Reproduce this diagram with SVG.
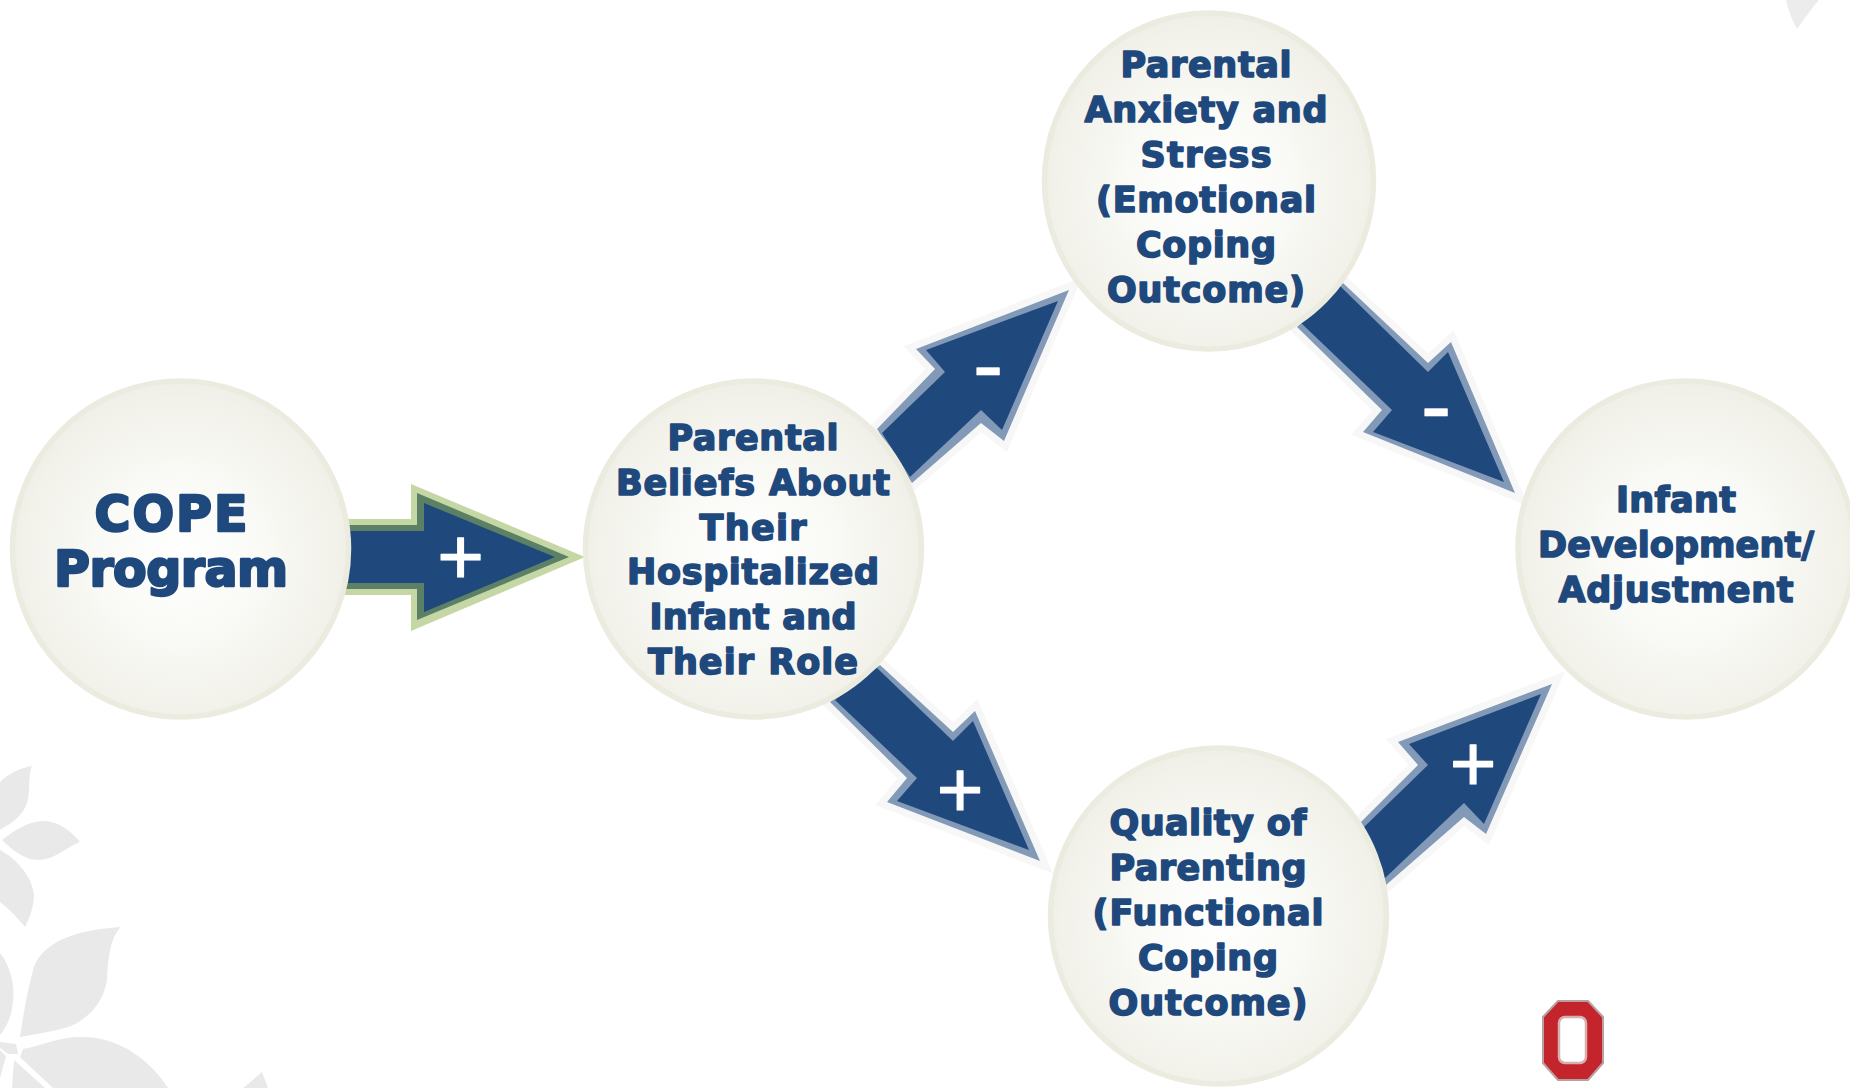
<svg xmlns="http://www.w3.org/2000/svg" width="1850" height="1088" viewBox="0 0 1850 1088">
<defs>
<radialGradient id="disc" cx="50%" cy="52%" r="52%">
<stop offset="0" stop-color="#ffffff"/>
<stop offset="0.5" stop-color="#f9f9f5"/>
<stop offset="1" stop-color="#f0efe7"/>
</radialGradient>
</defs>
<style>
.bg{fill:#e9e9e9}
.disc{fill:url(#disc);stroke:#ecebe0;stroke-width:5.5}
.t{font-family:"DejaVu Sans","Liberation Sans",sans-serif;font-weight:700;font-size:35px;fill:#1f497d;stroke:#1f497d;stroke-width:1.6px;stroke-linejoin:round;text-anchor:middle}
.big{font-size:49px;stroke-width:2.4px}
.halo{fill:#f7f7f7;stroke:#f7f7f7;stroke-width:14;stroke-linejoin:miter;stroke-miterlimit:10}
.band{fill:#829ab8}
.navy{fill:#1f497d}
.sign{font-family:"Liberation Sans",Arial,sans-serif;fill:#fff;stroke:#fff;stroke-width:1.2px;stroke-linejoin:round;text-anchor:middle}
.plus{font-size:80px}
.minus{font-size:92px;stroke-width:.6px}
</style>
<rect width="1850" height="1088" fill="#fff"/>
<g id="background">
<path class="bg" d="M0 782C8 774 20 768 32 766C26 780 34 800 20 815C14 822 6 826 0 830Z"/>
<path class="bg" d="M2 840C15 830 30 820 45 821C60 822 72 832 80 842C68 846 55 860 38 860C25 860 12 850 2 840Z"/>
<path class="bg" d="M0 850C15 858 32 875 34 895C34 905 30 918 25 927C17 917 8 908 0 902Z"/>
<path class="bg" d="M20 1037C24 1010 28 990 33 970C40 945 70 930 121 927C110 937 108 960 107 980C103 1005 85 1022 65 1028C50 1032 35 1034 20 1037Z"/>
<path class="bg" d="M0 953C10 965 15 985 13 1000C12 1015 8 1025 0 1035Z"/>
<path class="bg" d="M23 1049C45 1045 60 1036 85 1037C120 1038 150 1060 168 1088L53 1088L20 1057Z"/>
<path class="bg" d="M14 1060L45 1088L12 1088Z"/>
<path class="bg" d="M6 1056L0 1078L0 1050Z"/>
<path class="bg" d="M0 1042L16 1044L18 1054L8 1054L0 1048Z"/>
<path class="bg" d="M262 1072C255 1078 248 1084 243 1088L268 1088C266 1082 264 1078 262 1072Z"/>
<path class="bg" fill-opacity=".85" d="M1786 0C1788 10 1792 20 1797 29C1805 18 1812 8 1819 0Z"/>
</g>
<g id="connectors">
<g id="arrow-cope-beliefs">
<polygon fill="#c6d7a6" points="340,519 411,519 411,484 585,557 411,631 411,595 340,595"/>
<polygon fill="#5c8065" points="340,525 417,525 417,493 569,557 417,620 417,589 340,589"/>
<polygon class="navy" points="340,531 424,531 424,503 555,557 424,612 424,583 340,583"/>
<text class="sign plus" x="460.5" y="584">+</text>
</g>
<g id="arrow-beliefs-anxiety">
<polygon class="halo" points="877,429 935,369 916,349 1069,290 1004,441 981,423 912,483"/>
<polygon class="band" points="877,429 935,369 916,349 1069,290 1004,441 981,423 912,483"/>
<polygon class="navy" points="882,433 945,372 926,350 1058,301 1002,430 981,410 910,477"/>
<text class="sign minus" x="988" y="396">-</text>
</g>
<g id="arrow-anxiety-infant">
<polygon class="halo" points="1343,283 1428,363 1451,342 1515,493 1363,432 1382,410 1297,327"/>
<polygon class="band" points="1343,283 1428,363 1451,342 1515,493 1363,432 1382,410 1297,327"/>
<polygon class="navy" points="1340,286 1428,372 1448,352 1504,482 1373,432 1392,410 1300,322"/>
<text class="sign minus" x="1436" y="437">-</text>
</g>
<g id="arrow-beliefs-quality">
<polygon class="halo" points="880,665 953,732 975,711 1040,861 887,802 907,778 830,702"/>
<polygon class="band" points="880,665 953,732 975,711 1040,861 887,802 907,778 830,702"/>
<polygon class="navy" points="877,668 953,741 973,721 1029,850 897,801 917,778 835,700"/>
<text class="sign plus" x="960" y="817">+</text>
</g>
<g id="arrow-quality-infant">
<polygon class="halo" points="1360,823 1418,765 1398,742 1552,684 1486,834 1464,817 1386,885"/>
<polygon class="band" points="1360,823 1418,765 1398,742 1552,684 1486,834 1464,817 1386,885"/>
<polygon class="navy" points="1364,827 1428,765 1409,744 1541,694 1484,824 1464,803 1384,879"/>
<text class="sign plus" x="1473" y="791">+</text>
</g>
</g>
<g id="node-cope">
<circle class="disc" cx="180.5" cy="549" r="168"/>
<text class="t big" x="171" y="531" textLength="153">COPE</text>
<text class="t big" x="171" y="586" textLength="234">Program</text>
</g>
<g id="node-beliefs">
<circle class="disc" cx="753.5" cy="549" r="168"/>
<text class="t" x="753" y="449.5" textLength="171">Parental</text>
<text class="t" x="753" y="494.5" textLength="274">Beliefs About</text>
<text class="t" x="753" y="539.5" textLength="107">Their</text>
<text class="t" x="753" y="583.5" textLength="252">Hospitalized</text>
<text class="t" x="753" y="628.5" textLength="207">Infant and</text>
<text class="t" x="753" y="673.5" textLength="210">Their Role</text>
</g>
<g id="node-anxiety">
<ellipse class="disc" cx="1209" cy="181" rx="164.5" ry="168"/>
<text class="t" x="1206" y="76.5" textLength="171">Parental</text>
<text class="t" x="1206" y="121.5" textLength="243">Anxiety and</text>
<text class="t" x="1206" y="166.5" textLength="131">Stress</text>
<text class="t" x="1206" y="211.5" textLength="220">(Emotional</text>
<text class="t" x="1206" y="256.5" textLength="140">Coping</text>
<text class="t" x="1206" y="301.5" textLength="198">Outcome)</text>
</g>
<g id="node-quality">
<circle class="disc" cx="1218.5" cy="916" r="168"/>
<text class="t" x="1208" y="834.5" textLength="197">Quality of</text>
<text class="t" x="1208" y="879.5" textLength="197">Parenting</text>
<text class="t" x="1208" y="924.5" textLength="231">(Functional</text>
<text class="t" x="1208" y="969.5" textLength="140">Coping</text>
<text class="t" x="1208" y="1014.5" textLength="199">Outcome)</text>
</g>
<g id="node-infant">
<circle class="disc" cx="1686" cy="549" r="168"/>
<text class="t" x="1676" y="511.5" textLength="120">Infant</text>
<text class="t" x="1676" y="556.5" textLength="276">Development/</text>
<text class="t" x="1676" y="601.5" textLength="235">Adjustment</text>
</g>
<g id="logo">
<polygon points="1558,1001 1588,1001 1603,1017 1603,1063 1588,1080 1558,1080 1543,1063 1543,1017" fill="#c4242c" stroke="#b7a0a0" stroke-width="2"/>
<rect x="1559" y="1017" width="27" height="46" rx="6" fill="#fff" stroke="#d5aeae" stroke-width="2.5"/>
</g>
</svg>
